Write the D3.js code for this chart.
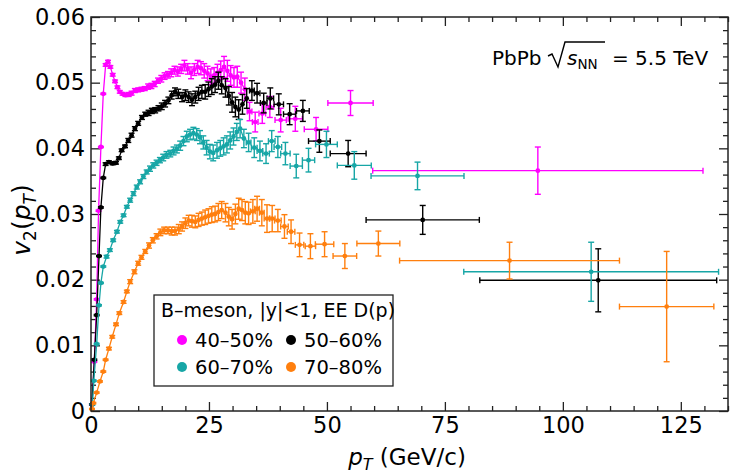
<!DOCTYPE html>
<html><head><meta charset="utf-8">
<script src="https://cdn.jsdelivr.net/npm/d3@7"></script>
<style>
html,body{margin:0;padding:0;background:#fff;}
svg{display:block;font-family:"DejaVu Sans",sans-serif;}
</style></head>
<body><svg id="c" width="730" height="474"></svg>
<script>
// ---- data: [pT, v2, yErr, xHalfWidth] ----
const c4050 = [
[0.2,0.0010,0.0001,0.25],[0.7,0.0075,0.0001,0.25],[1.2,0.0170,0.0001,0.25],[1.6,0.0305,0.0001,0.25],
[2.1,0.0402,0.0001,0.25],[2.6,0.0483,0.0001,0.25],[3.1,0.0527,0.0002,0.25],[3.6,0.0532,0.0002,0.25],
[4.1,0.0524,0.0002,0.25],[4.6,0.0512,0.0002,0.25],[5.1,0.0502,0.0002,0.25],[5.6,0.0493,0.0002,0.25],
[6.1,0.0486,0.0002,0.25],[6.7,0.0483,0.0002,0.25],[7.3,0.0481,0.0002,0.25],[8.0,0.0482,0.0003,0.25],
[8.6,0.0484,0.0003,0.25],[9.3,0.0488,0.0003,0.25],[10.0,0.0489,0.0003,0.25],[10.7,0.0490,0.0003,0.25],
[11.4,0.0491,0.0003,0.25],[12.1,0.0494,0.0004,0.25],[12.8,0.0495,0.0004,0.25],[13.5,0.0498,0.0004,0.25],
[14.2,0.0503,0.0004,0.25],[14.9,0.0506,0.0005,0.25],[15.6,0.0510,0.0005,0.25],[16.3,0.0512,0.0005,0.25],
[17.0,0.0515,0.0006,0.25],[17.7,0.0519,0.0006,0.25],[18.4,0.0517,0.0007,0.25],[19.1,0.0521,0.0007,0.25],
[19.8,0.0526,0.0008,0.25],[20.5,0.0521,0.0008,0.25],[21.2,0.0515,0.0009,0.25],[21.9,0.0520,0.0009,0.25],
[22.6,0.0524,0.0010,0.25],[23.3,0.0522,0.0010,0.25],[24.0,0.0518,0.0011,0.25],[24.7,0.0514,0.0011,0.25],
[25.4,0.0509,0.0012,0.25],[26.1,0.0511,0.0012,0.25],[26.8,0.0515,0.0013,0.25],[27.5,0.0519,0.0014,0.25],
[28.2,0.0524,0.0016,0.25],[28.9,0.0518,0.0016,0.25],[29.6,0.0511,0.0015,0.25],[30.3,0.0508,0.0015,0.25],
[31.0,0.0509,0.0016,0.25],[31.8,0.0500,0.0016,0.4],[32.6,0.0490,0.0017,0.4],
[33.6,0.0456,0.0014,0.5],[34.8,0.0440,0.0015,0.6],[36.3,0.0453,0.0015,0.7],[37.9,0.0463,0.0016,0.8],
[40.2,0.0443,0.0018,1.2],[43.3,0.0445,0.0019,1.5],[47.7,0.0429,0.0018,2.5],[55.0,0.0469,0.0019,4.8],
[94.7,0.0366,0.0036,35.0]
];
const c5060 = [
[0.2,0.0010,0.0001,0.25],[0.7,0.0078,0.0001,0.25],[1.2,0.0146,0.0001,0.25],[1.7,0.0236,0.0001,0.25],
[2.1,0.0310,0.0001,0.25],[2.6,0.0355,0.0001,0.25],[3.1,0.0376,0.0002,0.25],[3.8,0.0379,0.0002,0.25],
[4.6,0.0377,0.0002,0.25],[5.3,0.0378,0.0002,0.25],[5.9,0.0385,0.0002,0.25],[6.5,0.0397,0.0002,0.25],
[7.2,0.0403,0.0002,0.25],[7.9,0.0412,0.0003,0.25],[8.6,0.0420,0.0003,0.25],[9.3,0.0430,0.0003,0.25],
[10.0,0.0438,0.0003,0.25],[10.8,0.0447,0.0003,0.25],[11.5,0.0452,0.0003,0.25],[12.2,0.0454,0.0004,0.25],
[12.9,0.0457,0.0004,0.25],[13.6,0.0458,0.0004,0.25],[14.3,0.0461,0.0004,0.25],[15.0,0.0464,0.0005,0.25],
[15.7,0.0468,0.0005,0.25],[16.4,0.0473,0.0005,0.25],[17.1,0.0481,0.0006,0.25],[17.8,0.0486,0.0006,0.25],
[18.5,0.0483,0.0007,0.25],[19.3,0.0478,0.0007,0.25],[20.0,0.0481,0.0008,0.25],[20.7,0.0478,0.0008,0.25],
[21.4,0.0474,0.0009,0.25],[22.1,0.0478,0.0009,0.25],[22.8,0.0483,0.0010,0.25],[23.5,0.0486,0.0010,0.25],
[24.2,0.0486,0.0011,0.25],[24.9,0.0490,0.0011,0.25],[25.6,0.0494,0.0012,0.25],[26.3,0.0497,0.0012,0.25],
[27.0,0.0503,0.0013,0.25],[27.7,0.0496,0.0013,0.25],[28.5,0.0492,0.0014,0.25],[29.2,0.0480,0.0014,0.25],
[29.9,0.0470,0.0015,0.25],[30.6,0.0463,0.0015,0.25],[31.3,0.0459,0.0015,0.25],[32.1,0.0467,0.0015,0.4],
[33.0,0.0476,0.0015,0.4],[34.1,0.0488,0.0015,0.5],[35.2,0.0484,0.0015,0.6],[36.6,0.0469,0.0015,0.7],
[38.0,0.0476,0.0016,0.7],[39.8,0.0467,0.0016,1.0],[42.1,0.0452,0.0016,1.3],[44.9,0.0457,0.0016,1.35],
[48.4,0.0411,0.0017,2.3],[54.5,0.0392,0.0020,3.8],[70.3,0.0291,0.0022,12.0],[107.5,0.0199,0.0048,25.1]
];
const c6070 = [
[0.3,0.0010,0.0001,0.25],[0.6,0.0046,0.0001,0.25],[1.2,0.0102,0.0001,0.25],[1.7,0.0161,0.0001,0.25],
[2.1,0.0195,0.0001,0.25],[2.6,0.0220,0.0001,0.25],[3.3,0.0235,0.0002,0.25],[4.0,0.0245,0.0002,0.25],
[4.7,0.0260,0.0002,0.25],[5.5,0.0273,0.0002,0.25],[6.2,0.0288,0.0002,0.25],[6.9,0.0298,0.0002,0.25],
[7.6,0.0311,0.0002,0.25],[8.3,0.0321,0.0003,0.25],[9.0,0.0331,0.0003,0.25],[9.7,0.0341,0.0003,0.25],
[10.4,0.0349,0.0003,0.25],[11.1,0.0357,0.0003,0.25],[11.8,0.0364,0.0003,0.25],[12.5,0.0369,0.0004,0.25],
[13.2,0.0374,0.0004,0.25],[13.9,0.0378,0.0004,0.25],[14.6,0.0382,0.0004,0.25],[15.3,0.0386,0.0005,0.25],
[16.0,0.0390,0.0005,0.25],[16.8,0.0392,0.0005,0.25],[17.5,0.0396,0.0006,0.25],[18.2,0.0399,0.0006,0.25],
[18.9,0.0404,0.0007,0.25],[19.6,0.0411,0.0007,0.25],[20.3,0.0418,0.0008,0.25],[21.0,0.0421,0.0008,0.25],
[21.7,0.0423,0.0009,0.25],[22.4,0.0421,0.0009,0.25],[23.1,0.0417,0.0010,0.25],[23.8,0.0409,0.0010,0.25],
[24.5,0.0401,0.0011,0.25],[25.2,0.0395,0.0011,0.25],[25.9,0.0393,0.0012,0.25],[26.7,0.0397,0.0012,0.25],
[27.4,0.0400,0.0012,0.25],[28.1,0.0403,0.0013,0.25],[28.8,0.0406,0.0013,0.25],[29.5,0.0412,0.0013,0.25],
[30.2,0.0418,0.0013,0.25],[30.9,0.0425,0.0013,0.25],[31.6,0.0430,0.0014,0.25],[32.4,0.0415,0.0014,0.4],
[33.4,0.0409,0.0014,0.5],[34.6,0.0401,0.0015,0.6],[35.8,0.0396,0.0015,0.6],[37.1,0.0392,0.0015,0.7],
[38.3,0.0411,0.0016,0.7],[39.6,0.0402,0.0016,0.8],[41.2,0.0392,0.0017,1.0],[43.5,0.0373,0.0018,1.3],
[46.1,0.0382,0.0018,1.3],[49.9,0.0406,0.0020,2.3],[55.8,0.0374,0.0021,3.6],[69.2,0.0358,0.0021,9.85],
[106.0,0.0212,0.0045,27.0]
];
const c7080 = [
[0.2,0.0003,0.0001,0.25],[0.5,0.0012,0.0001,0.25],[1.2,0.0028,0.0001,0.25],[1.9,0.0045,0.0001,0.25],
[2.6,0.0060,0.0001,0.25],[3.1,0.0078,0.0001,0.25],[3.8,0.0095,0.0002,0.25],[4.5,0.0113,0.0002,0.25],
[5.3,0.0132,0.0002,0.25],[6.0,0.0149,0.0002,0.25],[6.9,0.0166,0.0002,0.25],[7.6,0.0182,0.0002,0.25],
[8.3,0.0197,0.0003,0.25],[9.2,0.0212,0.0003,0.25],[10.0,0.0225,0.0003,0.25],[10.7,0.0234,0.0003,0.25],
[11.5,0.0243,0.0003,0.25],[12.3,0.0252,0.0004,0.25],[13.1,0.0260,0.0004,0.25],[13.9,0.0266,0.0004,0.25],
[14.7,0.0272,0.0005,0.25],[15.5,0.0275,0.0005,0.25],[16.3,0.0275,0.0005,0.25],[17.1,0.0274,0.0006,0.25],
[17.8,0.0274,0.0006,0.25],[18.6,0.0277,0.0007,0.25],[19.3,0.0281,0.0007,0.25],[20.0,0.0286,0.0008,0.25],
[20.7,0.0290,0.0008,0.25],[21.4,0.0289,0.0009,0.25],[22.1,0.0288,0.0009,0.25],[22.8,0.0291,0.0010,0.25],
[23.5,0.0293,0.0010,0.25],[24.2,0.0295,0.0011,0.25],[24.9,0.0297,0.0011,0.25],[25.6,0.0299,0.0012,0.25],
[26.3,0.0300,0.0012,0.25],[27.0,0.0303,0.0013,0.25],[27.7,0.0306,0.0013,0.25],[28.5,0.0302,0.0014,0.25],
[29.2,0.0296,0.0014,0.25],[29.9,0.0292,0.0015,0.25],[30.6,0.0300,0.0015,0.25],[31.3,0.0308,0.0016,0.25],
[32.0,0.0306,0.0016,0.4],[32.7,0.0302,0.0017,0.4],[33.4,0.0301,0.0017,0.4],[34.3,0.0304,0.0018,0.5],
[35.2,0.0308,0.0019,0.5],[36.2,0.0302,0.0020,0.5],[37.3,0.0293,0.0021,0.6],[38.4,0.0293,0.0020,0.6],
[39.6,0.0290,0.0017,0.7],[41.0,0.0281,0.0018,0.8],[42.4,0.0273,0.0018,0.8],[44.2,0.0253,0.0018,0.9],
[46.5,0.0251,0.0019,1.1],[49.5,0.0254,0.0019,1.95],[53.8,0.0236,0.0019,2.5],[60.9,0.0255,0.0019,4.55],
[88.7,0.0229,0.0028,23.3],[122.0,0.0159,0.0084,10.0]
];
const seriesNames = ["40–50%","50–60%","60–70%","70–80%"];
const seriesColors = ["#ff00ff","#000000","#17a6a6","#ff7f0e"];
const seriesData = [c4050, c5060, c6070, c7080];
const xMajor = [0,25,50,75,100,125];
const yMajor = [0,0.01,0.02,0.03,0.04,0.05,0.06];
const yLabels = ["0","0.01","0.02","0.03","0.04","0.05","0.06"];

// ---- layout ----
const L=91, R=728, T=17, B=411;
const svg = d3.select("#c");
const x = d3.scaleLinear().domain([0,135]).range([L,R]);
const y = d3.scaleLinear().domain([0,0.06]).range([B,T]);
const xMinor = d3.range(0,136,5).filter(v=>v%25!==0);
const yMinor = d3.range(0,61,2).map(v=>v/1000).filter(v=>Math.round(v*1000)%10!==0);

function styleAxis(g){
  g.select(".domain").remove();
  g.selectAll(".tick line").attr("stroke","#222").attr("stroke-width",1.3);
  g.selectAll(".tick text").attr("fill","#000").style("font-size","22.5px").style("font-family","DejaVu Sans");
}
// bottom
svg.append("g").attr("transform",`translate(0,${B})`)
  .call(d3.axisBottom(x).tickValues(xMajor).tickSize(-9).tickPadding(6).tickFormat(d3.format("d"))).call(styleAxis);
svg.append("g").attr("transform",`translate(0,${B})`)
  .call(d3.axisBottom(x).tickValues(xMinor).tickSize(-5).tickFormat("")).call(styleAxis);
// top
svg.append("g").attr("transform",`translate(0,${T})`)
  .call(d3.axisTop(x).tickValues(xMajor).tickSize(-9).tickFormat("")).call(styleAxis);
svg.append("g").attr("transform",`translate(0,${T})`)
  .call(d3.axisTop(x).tickValues(xMinor).tickSize(-5).tickFormat("")).call(styleAxis);
// left
svg.append("g").attr("transform",`translate(${L},0)`)
  .call(d3.axisLeft(y).tickValues(yMajor).tickSize(-9).tickPadding(6).tickFormat((d,i)=>yLabels[i])).call(styleAxis);
svg.append("g").attr("transform",`translate(${L},0)`)
  .call(d3.axisLeft(y).tickValues(yMinor).tickSize(-5).tickFormat("")).call(styleAxis);
// right
svg.append("g").attr("transform",`translate(${R},0)`)
  .call(d3.axisRight(y).tickValues(yMajor).tickSize(-9).tickFormat("")).call(styleAxis);
svg.append("g").attr("transform",`translate(${R},0)`)
  .call(d3.axisRight(y).tickValues(yMinor).tickSize(-5).tickFormat("")).call(styleAxis);

// ---- series ----
const plot = svg.append("g");
const line = d3.line().x(d=>x(d[0])).y(d=>y(d[1]));
seriesData.forEach((data,i)=>{
  const col = seriesColors[i];
  const g = plot.append("g");
  const dense = data.filter(d=>d[3]<=0.4);
  g.append("path").datum(dense).attr("d",line).attr("fill","none").attr("stroke",col).attr("stroke-width",1.3);
  const cap = 3;
  data.forEach(d=>{
    const cx=x(d[0]), cy=y(d[1]), y1=y(d[1]-d[2]), y2=y(d[1]+d[2]);
    g.append("line").attr("x1",cx).attr("x2",cx).attr("y1",y1).attr("y2",y2).attr("stroke",col).attr("stroke-width",1.4);
    g.append("line").attr("x1",cx-cap).attr("x2",cx+cap).attr("y1",y1).attr("y2",y1).attr("stroke",col).attr("stroke-width",1.4);
    g.append("line").attr("x1",cx-cap).attr("x2",cx+cap).attr("y1",y2).attr("y2",y2).attr("stroke",col).attr("stroke-width",1.4);
    const xa=x(d[0]-d[3]), xb=x(d[0]+d[3]);
    if (xb-xa>4){
      g.append("line").attr("x1",xa).attr("x2",xb).attr("y1",cy).attr("y2",cy).attr("stroke",col).attr("stroke-width",1.4);
      g.append("line").attr("x1",xa).attr("x2",xa).attr("y1",cy-cap).attr("y2",cy+cap).attr("stroke",col).attr("stroke-width",1.4);
      g.append("line").attr("x1",xb).attr("x2",xb).attr("y1",cy-cap).attr("y2",cy+cap).attr("stroke",col).attr("stroke-width",1.4);
    }
    g.append("circle").attr("cx",cx).attr("cy",cy).attr("r",2.4).attr("fill",col);
  });
});

// frame
svg.append("rect").attr("x",L).attr("y",T).attr("width",R-L).attr("height",B-T)
  .attr("fill","none").attr("stroke","#222").attr("stroke-width",1.5);

// axis titles
const xt = svg.append("text").attr("x",407).attr("y",465).attr("text-anchor","middle").style("font-size","23px");
xt.append("tspan").attr("font-style","italic").text("p");
xt.append("tspan").attr("font-style","italic").attr("dy",5).style("font-size","16px").text("T");
xt.append("tspan").attr("dy",-5).text(" (GeV/c)");
const yt = svg.append("text").attr("transform","translate(30,220) rotate(-90)").attr("text-anchor","middle").style("font-size","25px");
yt.append("tspan").attr("font-style","italic").text("v");
yt.append("tspan").attr("dy",6).style("font-size","17px").text("2");
yt.append("tspan").attr("dy",-6).text("(");
yt.append("tspan").attr("font-style","italic").text("p");
yt.append("tspan").attr("font-style","italic").attr("dy",6).style("font-size","17px").text("T");
yt.append("tspan").attr("dy",-6).text(")");

// annotation
const ann = svg.append("g").style("font-size","20px");
ann.append("text").attr("x",492).attr("y",65).text("PbPb");
ann.append("path").attr("d","M548,56 L552,54 L558,67 L565,42 L605,42")
  .attr("fill","none").attr("stroke","#000").attr("stroke-width",1.4).attr("stroke-linejoin","miter");
const sn = ann.append("text").attr("x",567).attr("y",65);
sn.append("tspan").attr("font-style","italic").text("s");
sn.append("tspan").attr("dy",4).style("font-size","13.5px").text("NN");
ann.append("text").attr("x",612).attr("y",65).text("= 5.5 TeV");

// legend
const lg = svg.append("g");
lg.append("rect").attr("x",154).attr("y",295).attr("width",239).attr("height",91)
  .attr("fill","#fff").attr("stroke","#222").attr("stroke-width",1.3);
lg.append("text").attr("x",161).attr("y",317).style("font-size","19px").text("B–meson, |y|<1, EE D(p)");
const pos = [[182,340],[291,340],[182,367],[291,367]];
seriesNames.forEach((n,i)=>{
  lg.append("circle").attr("cx",pos[i][0]).attr("cy",pos[i][1]).attr("r",5).attr("fill",seriesColors[i]);
  lg.append("text").attr("x",pos[i][0]+13).attr("y",pos[i][1]+7).style("font-size","19.5px").text(n);
});
</script></body></html>
